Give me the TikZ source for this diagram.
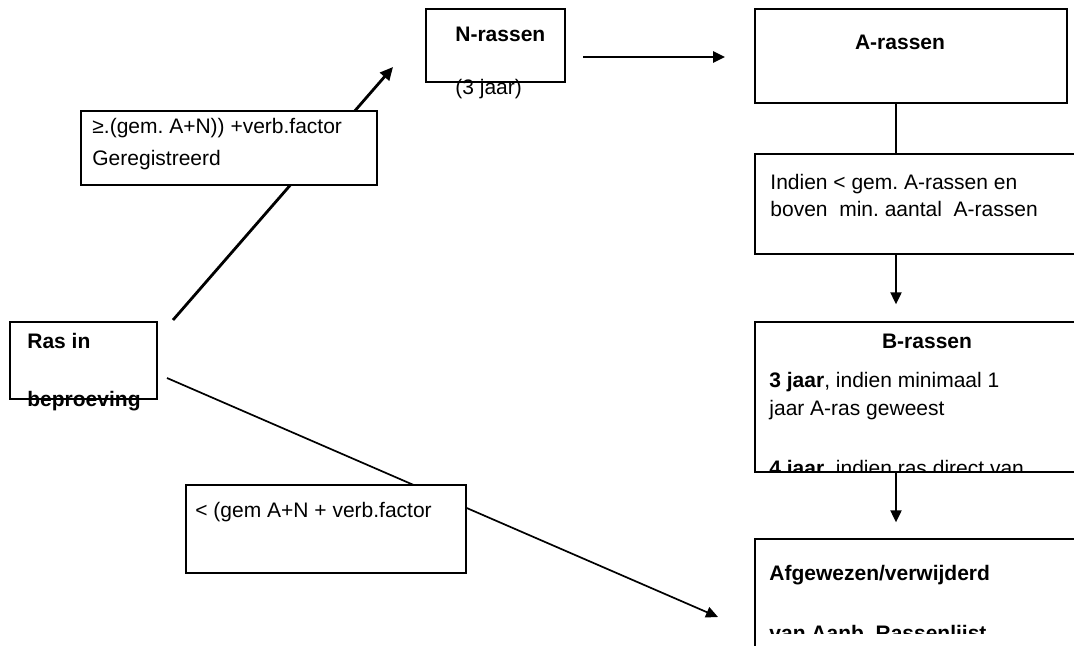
\documentclass[tikz,border=0pt]{standalone}
\usepackage{fontspec}
\setmainfont{Liberation Sans}
\frenchspacing
\usetikzlibrary{arrows.meta,fit}

\tikzset{
  box/.style={draw, line width=0.65pt, fill=white, inner sep=0pt},
  txt/.style={anchor=base west, inner sep=0pt, font=\fontsize{10.5}{12}\selectfont},
  ctxt/.style={txt, anchor=base},
  arr/.style={-{Triangle[length=6pt,width=5.5pt]}, line width=1pt},
}

\begin{document}
\begin{tikzpicture}[x=0.5pt,y=-0.5pt]
  \useasboundingbox (0,0) rectangle (1074,646);
  \clip (0,0) rectangle (1074,646);

  % free ends of the arrows
  \coordinate (upfrom) at (173,320);
  \coordinate (upto)   at (393,67);
  \coordinate (lowfrom) at (167,378);
  \coordinate (lowto)   at (718,617);
  \coordinate (hfrom) at (583,57);
  \coordinate (hto)   at (725,57);
  \coordinate (stem)  at (896,0);

  % diagonal arrows (behind the condition boxes)
  \draw[arr, line width=0.85pt] (lowfrom) -- (lowto);
  \draw[arr, line width=1.4pt, -{Triangle[length=6.5pt,width=6pt]}] (upfrom) -- (upto);

  % boxes
  \node[box, fit={(10,322) (157,399)}] (ras) {};
  \node[box, fit={(81,111) (377,185)}] (hoog) {};
  \node[box, fit={(186,485) (466,573)}] (laag) {};
  \node[box, fit={(426,9) (565,82)}] (nras) {};
  \node[box, fit={(755,9) (1067,103)}] (aras) {};
  \node[box, fit={(755,154) (1080,254)}] (indien) {};
  \node[box, fit={(755,322) (1080,472)}] (bras) {};
  \node[box, fit={(755,539) (1080,660)}] (afgw) {};

  % texts
  \node[txt] (rasA) at (27,348) {\bfseries Ras in};
  \node[txt] (rasB) at (27,406) {\bfseries beproeving};
  \node[txt] (hoogA) at (92,134) {≥.(gem. A+N)) +verb.factor};
  \node[txt] (hoogB) at (92,166) {Geregistreerd};
  \node[txt] (laagA) at (195,517) {< (gem A+N + verb.factor};
  \node[txt] (nrasA) at (455,42) {\bfseries N-rassen};
  \node[txt] (nrasB) at (455,95) {(3 jaar)};
  \node[ctxt] (arasA) at (900,50) {\bfseries A-rassen};
  \node[txt] (indienA) at (770,190) {Indien < gem. A-rassen en};
  \node[txt] (indienB) at (770,217) {boven\ \ min. aantal\ \ A-rassen};
  \begin{scope}
    \clip (bras.north west) rectangle (bras.south east);
    \node[ctxt] (brasA) at (927,348) {\bfseries B-rassen};
    \node[txt] (brasB) at (769,387) {\textbf{3 jaar}, indien minimaal 1};
    \node[txt] (brasC) at (769,415) {jaar A-ras geweest};
    \node[txt] (brasD) at (769,475) {\textbf{4 jaar}, indien ras direct van};
  \end{scope}
  \begin{scope}
    \clip (755,539) rectangle (1074,633);
    \node[txt] (afgwA) at (769,580) {\bfseries Afgewezen/verwijderd};
    \node[txt] (afgwB) at (769,640) {\bfseries van Aanb. Rassenlijst};
  \end{scope}

  % straight connectors
  \draw[arr, line width=1.3pt] (hfrom) -- (hto);
  \draw[line width=0.55pt] (aras.south -| stem) -- (indien.north -| stem);
  \draw[arr, shorten >=8.5pt] (indien.south -| stem) -- (bras.north -| stem);
  \draw[arr, shorten >=8pt] (bras.south -| stem) -- (afgw.north -| stem);
\end{tikzpicture}
\end{document}
